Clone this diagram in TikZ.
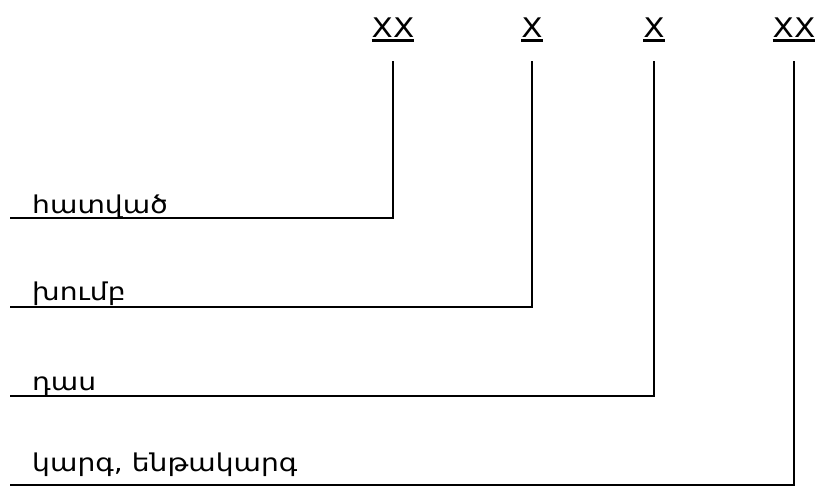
\documentclass[tikz,border=0pt]{standalone}
\usepackage{fontspec}
\setmainfont{DejaVu Sans}
\newfontfamily\topfont[FakeStretch=1.15]{DejaVu Sans}
\newfontfamily\armfont[Script=Armenian,FakeStretch=1.15]{DejaVu Sans}
\begin{document}
\begin{tikzpicture}[x=1pt,y=-1pt,
  conn/.style={line width=1.8pt, line join=miter},
  ulin/.style={line width=2.6pt},
  toplabel/.style={inner sep=0pt, anchor=base, font=\topfont\fontsize{27}{30}\selectfont},
  sidelabel/.style={inner sep=0pt, anchor=base west, font=\armfont\fontsize{24.5}{28}\selectfont}]
\useasboundingbox (0,0) rectangle (816,488);
% top labels
\node[toplabel] (t1) at (393,37) {XX};
\node[toplabel] (t2) at (532,37) {X};
\node[toplabel] (t3) at (654,37) {X};
\node[toplabel] (t4) at (794,37) {XX};
\foreach \n in {t1,t2,t3,t4}
  \draw[ulin] ([yshift=-3.5pt]\n.base west) -- ([yshift=-3.5pt]\n.base east);
% side labels
\node[sidelabel] (s1) at (32,213) {հատված};
\node[sidelabel] (s2) at (32,300) {խումբ};
\node[sidelabel] (s3) at (32,390) {դաս};
\node[sidelabel] (s4) at (32,471) {կարգ, ենթակարգ};
% connector coordinates
\coordinate (a1) at (393,61);  \coordinate (b1) at (393,218); \coordinate (e1) at (10,218);
\coordinate (a2) at (532,61);  \coordinate (b2) at (532,307); \coordinate (e2) at (10,307);
\coordinate (a3) at (654,61);  \coordinate (b3) at (654,396); \coordinate (e3) at (10,396);
\coordinate (a4) at (794,61);  \coordinate (b4) at (794,485); \coordinate (e4) at (10,485);
\draw[conn] (a1) -- (b1) -- (e1);
\draw[conn] (a2) -- (b2) -- (e2);
\draw[conn] (a3) -- (b3) -- (e3);
\draw[conn] (a4) -- (b4) -- (e4);
\end{tikzpicture}
\end{document}
